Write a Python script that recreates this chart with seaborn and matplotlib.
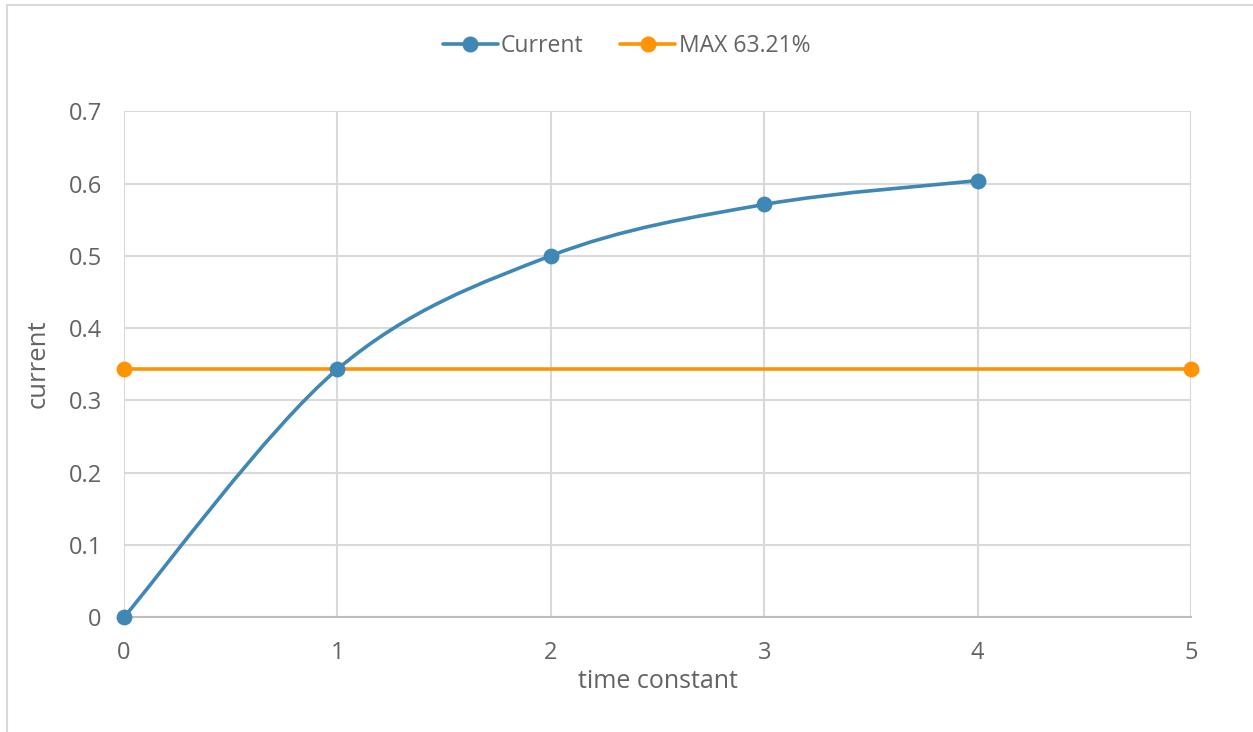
import numpy as np
import pandas as pd
import matplotlib
matplotlib.use("Agg")
import matplotlib.pyplot as plt
from matplotlib.path import Path
from matplotlib.patches import PathPatch, Rectangle
from matplotlib.lines import Line2D
import seaborn as sns

# data
time_constant = [0, 1, 2, 3, 4]
current = [0.0, 0.343, 0.500, 0.571, 0.604]
max_x = [0, 5]
max_y = [0.343, 0.343]

blue = "#3F88B5"
orange = "#FF9306"
text_col = "#636363"
grid_col = "#D9D9D9"

sns.set_theme(style="white")
plt.rcParams['font.family'] = ['Open Sans', 'DejaVu Sans']

fig = plt.figure(figsize=(12.53, 7.32), dpi=100)
ax = fig.add_axes([0.099, 0.157, 0.8515, 0.691])

# excel style smoothed line (bezier through the points)
pts = np.column_stack([time_constant, current])
verts = [tuple(pts[0])]
codes = [Path.MOVETO]
n = len(pts)
for i in range(n - 1):
    p0 = pts[max(i - 1, 0)]
    p1 = pts[i]
    p2 = pts[i + 1]
    p3 = pts[min(i + 2, n - 1)]
    c1 = p1 + (p2 - p0) / 6
    c2 = p2 - (p3 - p1) / 6
    verts += [tuple(c1), tuple(c2), tuple(p2)]
    codes += [Path.CURVE4] * 3
ax.add_patch(PathPatch(Path(verts, codes), fill=False, edgecolor=blue,
                       lw=2.6, zorder=3, capstyle='round', clip_on=False))

df_cur = pd.DataFrame({"x": time_constant, "y": current})
sns.scatterplot(data=df_cur, x="x", y="y", ax=ax, color=blue, s=130,
                edgecolor=blue, linewidth=0, zorder=4, clip_on=False)

df_max = pd.DataFrame({"x": max_x, "y": max_y})
sns.lineplot(data=df_max, x="x", y="y", ax=ax, color=orange, lw=2.6,
             marker="o", markersize=11.4, markeredgewidth=0, zorder=2,
             clip_on=False)

ax.set_xlim(0, 5)
ax.set_ylim(0, 0.7)
ax.set_xticks(range(0, 6))
ax.set_yticks(np.arange(0, 0.71, 0.1))
ax.set_xticklabels([str(i) for i in range(6)])
ax.set_yticklabels(["0"] + [f"{v:.1f}" for v in np.arange(0.1, 0.71, 0.1)])
ax.grid(True, color=grid_col, lw=1.5)
ax.set_axisbelow(True)
for s in ax.spines.values():
    s.set_visible(False)
ax.spines['bottom'].set_visible(True)
ax.spines['bottom'].set_color("#BFBFBF")
ax.spines['bottom'].set_linewidth(1.5)
ax.tick_params(axis='both', length=0, labelsize=17, colors=text_col)
ax.tick_params(axis='y', pad=16)
ax.tick_params(axis='x', pad=17)
ax.set_xlabel("time constant", fontsize=18, color=text_col, va='center')
ax.set_ylabel("current", fontsize=18.5, color=text_col, va='center')
ax.xaxis.set_label_coords(0.5, -0.128)
ax.yaxis.set_label_coords(-0.081, 0.5)

handles = [
    Line2D([], [], color=blue, lw=2.6, marker="o", markersize=10.5),
    Line2D([], [], color=orange, lw=2.6, marker="o", markersize=10.5),
]
fig.legend(handles, ["Current", "MAX 63.21%"], loc="center",
           bbox_to_anchor=(0.5, 0.937), ncol=2, frameon=False,
           fontsize=16.5, labelcolor=text_col, handlelength=2.4,
           handletextpad=0.15, columnspacing=1.6)

fig.patches.append(Rectangle((7 / 1253, -0.02), 1.1, 1.02 - 5 / 732,
                             transform=fig.transFigure,
                             fill=False, edgecolor=grid_col, lw=1.5))

fig.savefig("out.png", dpi=100)
